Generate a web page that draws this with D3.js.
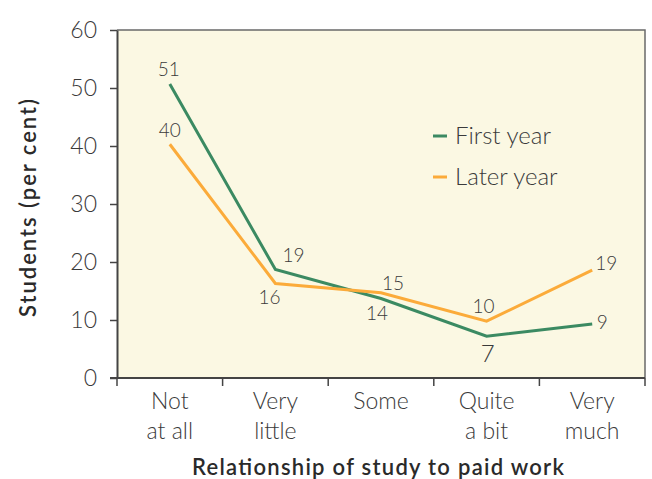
<!DOCTYPE html>
<html><head><meta charset="utf-8">
<script src="https://cdn.jsdelivr.net/npm/d3@7"></script>
<style>body{margin:0;background:#fff}svg{display:block}</style>
</head><body><svg id="c" width="652" height="479"></svg>
<script>
const categories = ["Not\nat all", "Very\nlittle", "Some", "Quite\na bit", "Very\nmuch"];
const firstYear = [50.7, 18.7, 13.7, 7.2, 9.3];
const laterYear = [40.3, 16.3, 14.7, 9.8, 18.6];
const firstLabels = ["51", "19", "14", "7", "9"];
const laterLabels = ["40", "16", "15", "10", "19"];
const yTicks = [0, 10, 20, 30, 40, 50, 60];
const seriesNames = ["First year", "Later year"];

// styling
const colors = ["#3b8a62", "#fbab3a"];
const firstOffsets = [[-1, -15], [18, -14], [-4, 15], [1, 17], [10, -2]];
const laterOffsets = [[0, -14], [-6, 14], [12, -9], [-3, -15], [14, -7]];
const font = "Lato, 'Open Sans', sans-serif";
const textColor = "#3a3a3a";

const svg = d3.select("#c");
const L = 117, R = 645, T = 30, B = 378;
const x = d3.scaleBand().domain(categories).range([L, R]).padding(0);
const y = d3.scaleLinear().domain([0, 60]).range([B, T]);

svg.append("rect").attr("x", L).attr("y", T).attr("width", R - L).attr("height", B - T)
  .attr("fill", "#fbf8e3");
svg.append("path").attr("d", `M${L},${T}H${R}V${B}`).attr("fill", "none")
  .attr("stroke", "#6a6a6a").attr("stroke-width", 1.5);

// y axis
const yAxis = svg.append("g").attr("transform", `translate(${L},0)`)
  .call(d3.axisLeft(y).tickValues(yTicks).tickSize(7).tickPadding(13).tickSizeOuter(0));
yAxis.select(".domain").attr("stroke", "#444").attr("stroke-width", 2);
yAxis.selectAll(".tick line").attr("stroke", "#444").attr("stroke-width", 1.5);
yAxis.selectAll(".tick text").attr("font-family", font).attr("font-weight", 300)
  .attr("font-size", 23).attr("fill", textColor);

// x axis
svg.append("line").attr("x1", L - 7).attr("x2", R).attr("y1", B).attr("y2", B)
  .attr("stroke", "#444").attr("stroke-width", 2);
const edges = categories.map(c => x(c)).concat([R]);
svg.selectAll(".xt").data(edges).enter().append("line").attr("class", "xt")
  .attr("x1", d => d).attr("x2", d => d).attr("y1", B).attr("y2", B + 8)
  .attr("stroke", "#444").attr("stroke-width", 1.5);
const xl = svg.selectAll(".xl").data(categories).enter().append("text").attr("class", "xl")
  .attr("x", d => x(d) + x.bandwidth() / 2).attr("y", 409)
  .attr("text-anchor", "middle").attr("font-family", font).attr("font-weight", 300)
  .attr("font-size", 23).attr("fill", textColor);
xl.selectAll("tspan").data(d => d.split("\n")).enter().append("tspan")
  .attr("x", function () { return d3.select(this.parentNode).attr("x"); })
  .attr("dy", (d, i) => i === 0 ? 0 : 30).text(d => d);

// axis titles
svg.append("text").attr("x", 378).attr("y", 475).attr("text-anchor", "middle")
  .attr("font-family", font).attr("font-weight", 600).attr("font-size", 22).attr("fill", "#2a2a2a")
  .attr("textLength", 372).attr("lengthAdjust", "spacing")
  .text("Relationship of study to paid work");
svg.append("text").attr("transform", "translate(36,208) rotate(-90)").attr("text-anchor", "middle")
  .attr("font-family", font).attr("font-weight", 600).attr("font-size", 22).attr("fill", "#2a2a2a")
  .attr("textLength", 218).attr("lengthAdjust", "spacing")
  .text("Students (per cent)");

// lines
const cx = c => x(c) + x.bandwidth() / 2;
const line = d3.line().x((d, i) => cx(categories[i])).y(d => y(d));
[firstYear, laterYear].forEach((s, k) => {
  svg.append("path").datum(s).attr("d", line).attr("fill", "none")
    .attr("stroke", colors[k]).attr("stroke-width", 3).attr("stroke-linejoin", "miter");
});

// value labels
function addLabels(vals, labels, offs) {
  svg.selectAll(null).data(vals).enter().append("text")
    .attr("x", (d, i) => cx(categories[i]) + offs[i][0])
    .attr("y", (d, i) => y(d) + offs[i][1])
    .attr("dy", "0.35em").attr("text-anchor", "middle")
    .attr("font-family", font).attr("font-weight", 300)
    .attr("font-size", (d, i) => labels[i] === "7" ? 24 : 19).attr("fill", textColor)
    .text((d, i) => labels[i]);
}
addLabels(laterYear, laterLabels, laterOffsets);
addLabels(firstYear, firstLabels, firstOffsets);

// legend
const lg = svg.selectAll(".lg").data(seriesNames).enter().append("g")
  .attr("transform", (d, i) => `translate(433,${136 + i * 41})`);
lg.append("line").attr("x1", 0).attr("x2", 14).attr("stroke", (d, i) => colors[i]).attr("stroke-width", 3);
lg.append("text").attr("x", 22).attr("dy", "0.35em").attr("font-family", font).attr("font-weight", 300)
  .attr("font-size", 24).attr("fill", textColor).text(d => d);
</script></body></html>
